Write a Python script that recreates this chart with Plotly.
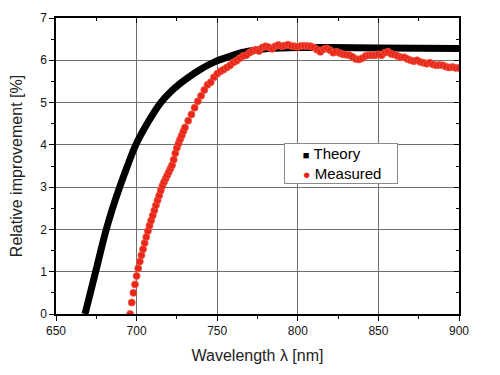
import plotly.graph_objects as go

# Theory curve (wavelength nm, relative improvement %)
theory_x = [668, 671.3, 674.6, 677.8, 681.2, 685.1, 689.5, 694.3, 699.5, 706.5, 715, 721, 727,
            733, 739, 745, 750, 757, 764, 772, 780, 790, 800, 820, 850, 900]
theory_y = [0, 0.5, 1.0, 1.5, 2.0, 2.5, 3.0, 3.5, 4.0, 4.5, 5.0, 5.25, 5.45,
            5.62, 5.77, 5.9, 5.99, 6.08, 6.17, 6.23, 6.27, 6.29, 6.3, 6.3, 6.29, 6.28]

# Measured points
meas_x = [696, 697, 698, 699, 700, 701, 702, 703, 704, 705, 706, 707, 708, 709, 710, 711, 712,
          713, 714, 715, 716, 717, 718, 719, 720, 721, 722, 723, 724, 725, 726, 727, 728, 729, 730,
          732, 734, 736, 738, 740, 742, 744, 746, 748, 750, 752, 754, 756, 758, 760, 762, 764, 766,
          768, 770, 772, 774, 776, 778, 780, 782, 784, 786, 788, 790, 792, 794, 796, 798, 800, 802,
          804, 806, 808, 810, 812, 814, 816, 818, 820, 822, 824, 826, 828, 830, 832, 834, 836, 838,
          840, 842, 844, 846, 848, 850, 852, 854, 856, 858, 860, 862, 864, 866, 868, 870, 872, 874,
          876, 878, 880, 882, 884, 886, 888, 890, 892, 894, 896, 898, 900]
meas_y = [0.0, 0.27, 0.5, 0.7, 0.9, 1.08, 1.24, 1.39, 1.53, 1.68, 1.82, 1.96, 2.09, 2.21, 2.33,
          2.45, 2.57, 2.69, 2.8, 2.92, 3.03, 3.12, 3.2, 3.28, 3.36, 3.44, 3.52, 3.65, 3.8, 3.93,
          4.03, 4.13, 4.22, 4.32, 4.41,
          4.57, 4.72, 4.88, 5.03, 5.16, 5.3, 5.42, 5.48, 5.6, 5.68, 5.74, 5.78, 5.83, 5.88, 5.95,
          5.99, 6.05, 6.1, 6.12, 6.18, 6.22, 6.25, 6.22, 6.3, 6.33, 6.31, 6.27, 6.33, 6.36, 6.33,
          6.35, 6.37, 6.34, 6.33, 6.32, 6.34, 6.34, 6.34, 6.33, 6.3, 6.25, 6.2, 6.26, 6.28, 6.24,
          6.18, 6.2, 6.17, 6.14, 6.13, 6.12, 6.08, 6.03, 6.02, 6.05, 6.1, 6.12, 6.12, 6.12, 6.14,
          6.12, 6.18, 6.2, 6.15, 6.13, 6.1, 6.07, 6.07, 6.03, 6.0, 5.98, 6.0, 5.96, 5.94, 5.92,
          5.94, 5.9, 5.88, 5.89, 5.88, 5.85, 5.83, 5.84, 5.82, 5.82]

x_ticks = [650, 700, 750, 800, 850, 900]
y_ticks = [0, 1, 2, 3, 4, 5, 6, 7]
series_names = ["Theory", "Measured"]

FONT = "Liberation Sans, Arial, sans-serif"
RED = "#e8261c"
GRID = "#6e6e6e"

fig = go.Figure()
fig.add_trace(go.Scatter(x=theory_x, y=theory_y, mode="lines", name=series_names[0],
                         line=dict(color="black", width=7, shape="spline", smoothing=1.0),
                         showlegend=False))
fig.add_trace(go.Scatter(x=meas_x, y=meas_y, mode="markers", name=series_names[1],
                         marker=dict(color=RED, size=7, line=dict(color="#f0553a", width=0.8)),
                         showlegend=False))

axis_common = dict(showline=True, linecolor="black", linewidth=1.5,
                   tickfont=dict(family=FONT, size=12, color="#111"),
                   zeroline=False, automargin=False)

nb = "\u00a0"
legend_text = (nb * 4 + '<span style="color:black;font-size:11px">■</span>' + nb + series_names[0]
               + "<br>" + nb * 4 + '<span style="color:' + RED + ';font-size:13px">●</span>'
               + nb + series_names[1])

fig.update_layout(
    width=500, height=375,
    margin=dict(l=56, r=41, t=18, b=61),
    paper_bgcolor="white", plot_bgcolor="white",
    font=dict(family=FONT, color="#222"),
    showlegend=False,
    xaxis=dict(range=[650, 900], tickvals=x_ticks, ticks="outside", ticklen=5,
               tickcolor="black", showgrid=True, gridcolor=GRID, gridwidth=1,
               minor=dict(dtick=25, ticks="outside", ticklen=3, tickcolor="black", showgrid=False),
               title=dict(text="Wavelength λ [nm]", font=dict(family=FONT, size=16, color="#222"),
                          standoff=13),
               **axis_common),
    yaxis=dict(range=[0, 7], tickvals=y_ticks, ticks="outside", ticklen=5,
               tickcolor="black", showgrid=True, gridcolor=GRID, gridwidth=1,
               minor=dict(dtick=0.5, ticks="outside", ticklen=3, tickcolor="black", showgrid=False),
               title=dict(text="Relative improvement [%]", font=dict(family=FONT, size=16, color="#222"),
                          standoff=14),
               **axis_common),
    xaxis2=dict(range=[650, 900], overlaying="x", side="top", tickvals=x_ticks, ticks="inside",
                ticklen=5, tickcolor="black", showticklabels=False, showgrid=False,
                minor=dict(dtick=25, ticks="inside", ticklen=3, tickcolor="black"),
                showline=True, linecolor="black", linewidth=1.5, zeroline=False, automargin=False),
    yaxis2=dict(range=[0, 7], overlaying="y", side="right", tickvals=y_ticks, ticks="inside",
                ticklen=5, tickcolor="black", showticklabels=False, showgrid=False,
                minor=dict(dtick=0.5, ticks="inside", ticklen=3, tickcolor="black"),
                showline=True, linecolor="black", linewidth=1.5, zeroline=False, automargin=False),
    annotations=[dict(xref="paper", yref="paper", x=0.566, y=0.578, xanchor="left", yanchor="top",
                      text=legend_text, showarrow=False, align="left",
                      font=dict(family=FONT, size=15, color="black"),
                      bgcolor="white", bordercolor="#8a8a8a", borderwidth=1, borderpad=1,
                      width=110, height=37)],
)
# invisible trace to anchor secondary axes
fig.add_trace(go.Scatter(x=[None], y=[None], xaxis="x2", yaxis="y2", showlegend=False,
                         hoverinfo="skip"))

fig.write_html("out.html", config={"displayModeBar": False},
               post_script="document.body.style.margin='0';")
